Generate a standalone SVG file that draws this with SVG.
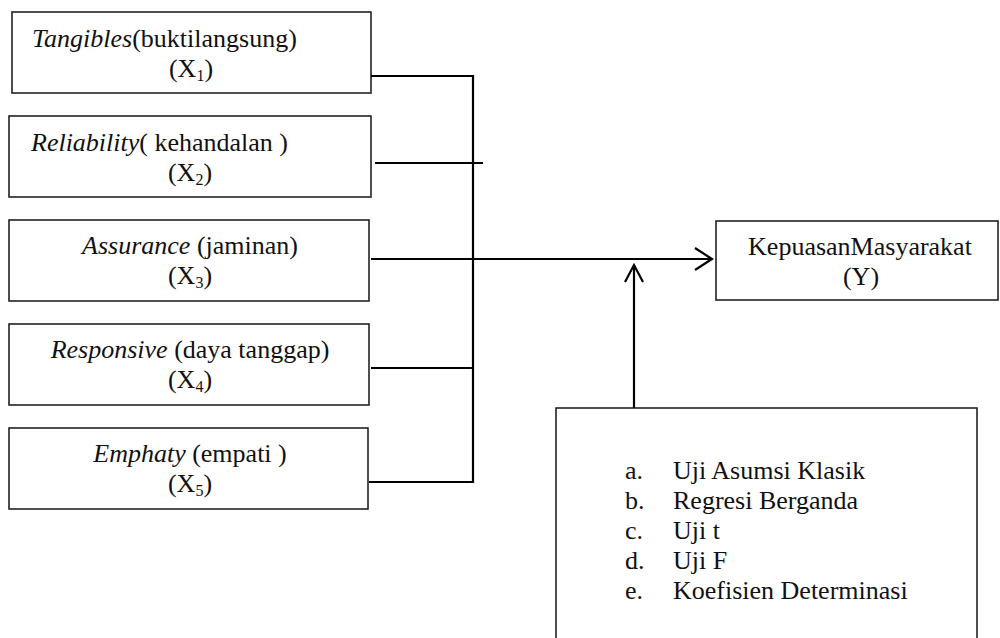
<svg xmlns="http://www.w3.org/2000/svg" width="1000" height="638" viewBox="0 0 1000 638">
<style>
.box{fill:#fff;stroke:#222;stroke-width:1.6}
.t{font-family:"Liberation Serif","Times New Roman",serif;font-size:26px;fill:#111}
.c{text-anchor:middle}
.sub{font-size:16px}
.con{fill:none;stroke:#000;stroke-width:2.2}
</style>
<rect width="1000" height="638" fill="#fff"/>
<g id="x1">
<rect class="box" x="12" y="12" width="359" height="81"/>
<text class="t" x="32" y="47"><tspan font-style="italic">Tangibles</tspan>(buktilangsung)</text>
<text class="t c" x="191" y="77">(X<tspan class="sub" dy="4">1</tspan><tspan dy="-4">)</tspan></text>
</g>
<g id="x2">
<rect class="box" x="9" y="116" width="362" height="81"/>
<text class="t" x="31" y="151"><tspan font-style="italic">Reliability</tspan>( kehandalan )</text>
<text class="t c" x="190" y="181">(X<tspan class="sub" dy="4">2</tspan><tspan dy="-4">)</tspan></text>
</g>
<g id="x3">
<rect class="box" x="9" y="220" width="360" height="81"/>
<text class="t c" x="190" y="254"><tspan font-style="italic">Assurance</tspan> (jaminan)</text>
<text class="t c" x="190" y="284">(X<tspan class="sub" dy="4">3</tspan><tspan dy="-4">)</tspan></text>
</g>
<g id="x4">
<rect class="box" x="9" y="324" width="360" height="81"/>
<text class="t c" x="190" y="358"><tspan font-style="italic">Responsive</tspan> (daya tanggap)</text>
<text class="t c" x="190" y="388">(X<tspan class="sub" dy="4">4</tspan><tspan dy="-4">)</tspan></text>
</g>
<g id="x5">
<rect class="box" x="9" y="428" width="359" height="81"/>
<text class="t c" x="190" y="462"><tspan font-style="italic">Emphaty</tspan> (empati )</text>
<text class="t c" x="190" y="492">(X<tspan class="sub" dy="4">5</tspan><tspan dy="-4">)</tspan></text>
</g>
<g id="y">
<rect class="box" x="716" y="221" width="282" height="79"/>
<text class="t c" x="860" y="255">KepuasanMasyarakat</text>
<text class="t c" x="861" y="285">(Y)</text>
</g>
<g id="analysis">
<rect class="box" x="556" y="408" width="421" height="250"/>
<text class="t" x="625" y="479">a.</text><text class="t" x="673" y="479">Uji Asumsi Klasik</text>
<text class="t" x="625" y="509">b.</text><text class="t" x="673" y="509">Regresi Berganda</text>
<text class="t" x="625" y="539">c.</text><text class="t" x="673" y="539">Uji t</text>
<text class="t" x="625" y="569">d.</text><text class="t" x="673" y="569">Uji F</text>
<text class="t" x="625" y="599">e.</text><text class="t" x="673" y="599">Koefisien Determinasi</text>
</g>
<g id="connectors">
<line class="con" x1="371" y1="76" x2="474" y2="76"/>
<line class="con" x1="375" y1="163" x2="483" y2="163"/>
<line class="con" x1="371" y1="368" x2="473" y2="368"/>
<line class="con" x1="369" y1="482" x2="474" y2="482"/>
<line class="con" x1="473" y1="75" x2="473" y2="483"/>
<line class="con" x1="371" y1="259" x2="712" y2="259"/>
<polyline class="con" points="695,248 712,259 695,270"/>
<line class="con" x1="634" y1="408" x2="634" y2="265"/>
<polyline class="con" points="625,282 634,265 643,282"/>
</g>
</svg>
